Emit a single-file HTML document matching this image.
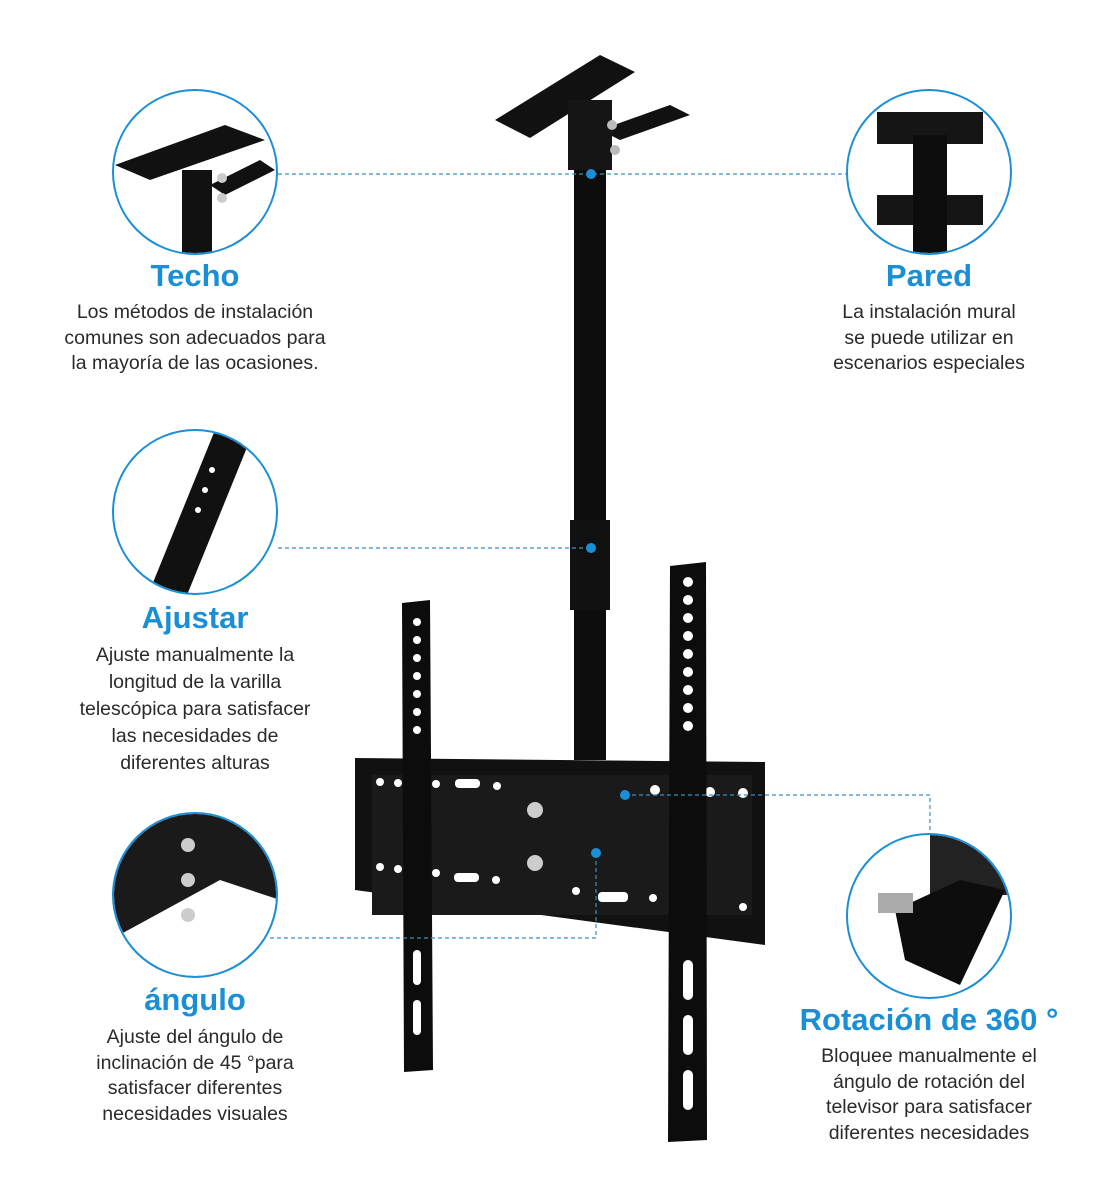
<!DOCTYPE html>
<html><head><meta charset="utf-8"><style>
html,body{margin:0;padding:0;background:#fff;}
body{width:1111px;height:1200px;position:relative;overflow:hidden;font-family:"Liberation Sans",sans-serif;}
.t{position:absolute;color:#1b8fd6;font-weight:bold;font-size:31px;text-align:center;transform:translateX(-50%);white-space:nowrap;}
.d{position:absolute;color:#2a2a2a;font-size:19.5px;line-height:25.5px;text-align:center;transform:translateX(-50%);white-space:nowrap;}
</style></head><body>
<svg width="1111" height="1200" style="position:absolute;left:0;top:0">
<defs>
<clipPath id="c1"><circle cx="195" cy="172" r="81"/></clipPath>
<clipPath id="c2"><circle cx="929" cy="172" r="81"/></clipPath>
<clipPath id="c3"><circle cx="195" cy="512" r="81"/></clipPath>
<clipPath id="c4"><circle cx="195" cy="895" r="81"/></clipPath>
<clipPath id="c5"><circle cx="929" cy="916" r="81"/></clipPath>
</defs>
<!-- pole -->
<rect x="574" y="150" width="32" height="610" fill="#0d0d0d"/>
<rect x="570" y="520" width="40" height="90" fill="#111"/>
<!-- ceiling plate -->
<polygon points="495,120 600,55 635,72 530,138" fill="#111"/>
<polygon points="600,130 670,105 690,115 620,140" fill="#111"/>
<rect x="568" y="100" width="44" height="70" fill="#151515"/>
<circle cx="612" cy="125" r="5" fill="#bbb"/><circle cx="615" cy="150" r="5" fill="#bbb"/>
<!-- wall plate -->
<polygon points="355,758 765,762 765,945 355,890" fill="#111"/>
<rect x="372" y="775" width="380" height="140" fill="#1a1a1a"/>
<g fill="#fff">
<circle cx="380" cy="782" r="4"/><circle cx="398" cy="783" r="4"/><circle cx="436" cy="784" r="4"/>
<rect x="455" y="779" width="25" height="9" rx="4"/><circle cx="497" cy="786" r="4"/>
<circle cx="655" cy="790" r="5"/><circle cx="710" cy="792" r="5"/><circle cx="743" cy="793" r="5"/>
<circle cx="380" cy="867" r="4"/><circle cx="398" cy="869" r="4"/><circle cx="436" cy="873" r="4"/>
<rect x="454" y="873" width="25" height="9" rx="4"/><circle cx="496" cy="880" r="4"/>
<circle cx="576" cy="891" r="4"/><rect x="598" y="892" width="30" height="10" rx="4"/><circle cx="653" cy="898" r="4"/>
<circle cx="743" cy="907" r="4"/>
</g>
<circle cx="535" cy="810" r="8" fill="#ccc"/><circle cx="535" cy="863" r="8" fill="#ccc"/>
<!-- vertical brackets -->
<polygon points="402,603 430,600 433,1070 404,1072" fill="#0c0c0c"/>
<polygon points="670,566 706,562 707,1140 668,1142" fill="#0c0c0c"/>
<g fill="#fff">
<circle cx="417" cy="622" r="4"/><circle cx="417" cy="640" r="4"/><circle cx="417" cy="658" r="4"/><circle cx="417" cy="676" r="4"/><circle cx="417" cy="694" r="4"/><circle cx="417" cy="712" r="4"/><circle cx="417" cy="730" r="4"/>
<rect x="413" y="950" width="8" height="35" rx="4"/><rect x="413" y="1000" width="8" height="35" rx="4"/>
<circle cx="688" cy="582" r="5"/><circle cx="688" cy="600" r="5"/><circle cx="688" cy="618" r="5"/><circle cx="688" cy="636" r="5"/><circle cx="688" cy="654" r="5"/><circle cx="688" cy="672" r="5"/><circle cx="688" cy="690" r="5"/><circle cx="688" cy="708" r="5"/><circle cx="688" cy="726" r="5"/>
<rect x="683" y="960" width="10" height="40" rx="5"/><rect x="683" y="1015" width="10" height="40" rx="5"/><rect x="683" y="1070" width="10" height="40" rx="5"/>
</g>
<!-- circle contents -->
<g clip-path="url(#c1)"><polygon points="115,165 225,125 265,140 150,180" fill="#111"/><polygon points="210,185 260,160 275,170 225,195" fill="#111"/><rect x="182" y="170" width="30" height="90" fill="#111"/><circle cx="222" cy="178" r="5" fill="#ccc"/><circle cx="222" cy="198" r="5" fill="#ccc"/></g>
<g clip-path="url(#c2)"><rect x="877" y="112" width="106" height="32" fill="#151515"/><rect x="877" y="195" width="106" height="30" fill="#151515"/><rect x="913" y="135" width="34" height="120" fill="#0d0d0d"/></g>
<g clip-path="url(#c3)"><polygon points="215,430 250,440 185,600 150,590" fill="#111"/><circle cx="212" cy="470" r="3" fill="#fff"/><circle cx="205" cy="490" r="3" fill="#fff"/><circle cx="198" cy="510" r="3" fill="#fff"/></g>
<g clip-path="url(#c4)"><rect x="110" y="810" width="170" height="170" fill="#1a1a1a"/><polygon points="110,940 220,880 280,900 280,990 110,990" fill="#fff"/><circle cx="188" cy="845" r="7" fill="#ccc"/><circle cx="188" cy="880" r="7" fill="#ccc"/><circle cx="188" cy="915" r="7" fill="#ccc"/></g>
<g clip-path="url(#c5)"><rect x="930" y="835" width="80" height="60" fill="#222"/><polygon points="895,910 960,880 1005,890 960,985 905,960" fill="#0d0d0d"/><rect x="878" y="893" width="35" height="20" fill="#aaa"/></g>
<g fill="none" stroke="#1b8fd6" stroke-width="2">
<circle cx="195" cy="172" r="82"/><circle cx="929" cy="172" r="82"/><circle cx="195" cy="512" r="82"/><circle cx="195" cy="895" r="82"/><circle cx="929" cy="916" r="82"/>
</g>
<g fill="none" stroke="#3a8fc0" stroke-width="1.2" stroke-dasharray="4,3">
<line x1="278" y1="174" x2="846" y2="174"/>
<line x1="278" y1="548" x2="591" y2="548"/>
<polyline points="270,938 596,938 596,853"/>
<polyline points="625,795 930,795 930,833"/>
</g>
<g fill="#1b8fd6"><circle cx="591" cy="174" r="5"/><circle cx="591" cy="548" r="5"/><circle cx="596" cy="853" r="5"/><circle cx="625" cy="795" r="5"/></g>
</svg>
<div class="t" style="left:195px;top:258px">Techo</div>
<div class="d" style="left:195px;top:300px">Los métodos de instalación<br>comunes son adecuados para<br>la mayoría de las ocasiones.</div>
<div class="t" style="left:929px;top:258px">Pared</div>
<div class="d" style="left:929px;top:300px">La instalación mural<br>se puede utilizar en<br>escenarios especiales</div>
<div class="t" style="left:195px;top:600px">Ajustar</div>
<div class="d" style="left:195px;top:642px;line-height:27px">Ajuste manualmente la<br>longitud de la varilla<br>telescópica para satisfacer<br>las necesidades de<br>diferentes alturas</div>
<div class="t" style="left:195px;top:982px">ángulo</div>
<div class="d" style="left:195px;top:1025px">Ajuste del ángulo de<br>inclinación de 45 °para<br>satisfacer diferentes<br>necesidades visuales</div>
<div class="t" style="left:929px;top:1002px">Rotación de 360 °</div>
<div class="d" style="left:929px;top:1044px">Bloquee manualmente el<br>ángulo de rotación del<br>televisor para satisfacer<br>diferentes necesidades</div>
</body></html>
